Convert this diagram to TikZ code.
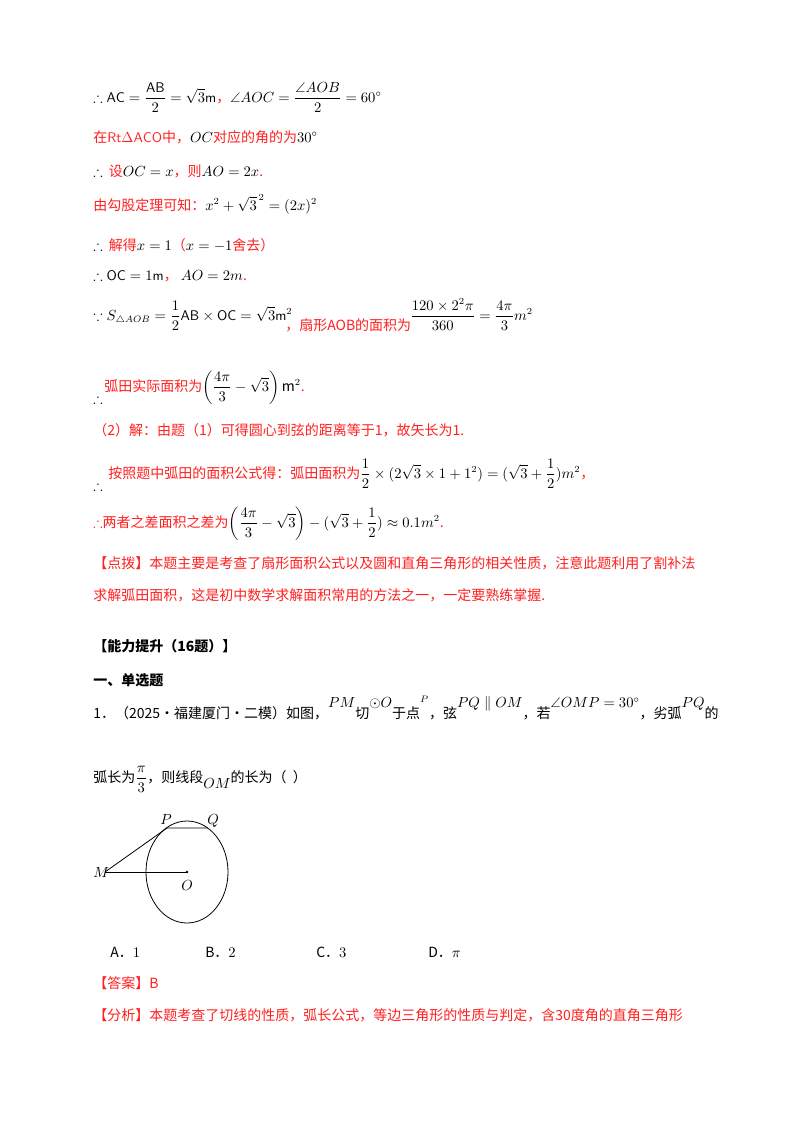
\documentclass[tikz,border=0pt]{standalone}
\usepackage{amsmath,amssymb}
\usepackage{fontspec}
\setmainfont{Noto Sans CJK SC}
\definecolor{rd}{HTML}{FF2020}
\begin{document}
\begin{tikzpicture}[x=0.75pt,y=-0.75pt,
  t/.style={anchor=base west,inner sep=0pt,font=\fontsize{10.5}{12}\selectfont},
  r/.style={t,text=rd},
  b/.style={t,font=\fontsize{10.5}{12}\selectfont\bfseries}]
\useasboundingbox[fill=white] (0,0) rectangle (800,1132);
\node[t] (l1) at (93,102) {$\therefore \mathsf{AC}=\dfrac{\mathsf{AB}}{2}=\sqrt{3}\mathsf{m}$\textcolor{rd}{，}$\angle AOC=\dfrac{\angle AOB}{2}=60^\circ$};
\node[r] (l2) at (93,142) {在\textcolor{rd}{$\mathsf{Rt}\Delta\mathsf{ACO}$}中，\textcolor{black}{$OC$}对应的角的为\textcolor{black}{$30^\circ$}};
\node[t] (l3) at (93,176) {$\therefore$\ \ \textcolor{rd}{设}$OC=x$\textcolor{rd}{，则}$AO=2x$\textcolor{rd}{.}};
\node[r] (l4) at (93,210) {由勾股定理可知：\textcolor{black}{$x^2+\sqrt{3}^{\,2}=(2x)^2$}};
\node[t] (l5) at (93,250) {$\therefore$\ \ \textcolor{rd}{解得}$x=1$\textcolor{rd}{（}$x=-1$\textcolor{rd}{舍去）}};
\node[t] (l6) at (93,280) {$\therefore \mathsf{OC}=1\mathsf{m}$\textcolor{rd}{，}\ $AO=2m$\textcolor{rd}{.}};
\node[t] (l7) at (93,320) {$\because S_{\triangle AOB}=\dfrac12\mathsf{AB}\times\mathsf{OC}=\sqrt3\mathsf{m}^2$};
\node[r] (l7b) at (285,330) {，扇形AOB的面积为};
\node[t] (l7c) at (410,320) {$\dfrac{120\times2^2\pi}{360}=\dfrac{4\pi}{3}m^2$};
\node[t] (l8a) at (93,403) {$\therefore$};
\node[r] (l8) at (104,391) {弧田实际面积为\textcolor{black}{$\left(\dfrac{4\pi}{3}-\sqrt3\right)\mathrm{m}^2$}.};
\node[r] (l9) at (93,435) {（2）解：由题（1）可得圆心到弦的距离等于1，故矢长为1.};
\node[t] (l10a) at (93,490) {$\therefore$};
\node[r] (l10) at (108,478) {按照题中弧田的面积公式得：弧田面积为\textcolor{black}{$\dfrac12\times(2\sqrt3\times1+1^2)=(\sqrt3+\dfrac12)m^2$}，};
\node[r] (l11) at (93,527) {$\therefore$两者之差面积之差为\textcolor{black}{$\left(\dfrac{4\pi}{3}-\sqrt3\right)-(\sqrt3+\dfrac12)\approx0.1m^2$}.};
\node[r] (l12) at (93,568) {【点拨】本题主要是考查了扇形面积公式以及圆和直角三角形的相关性质，注意此题利用了割补法};
\node[r] (l13) at (93,600) {求解弧田面积，这是初中数学求解面积常用的方法之一，一定要熟练掌握.};
\node[b] (h1) at (93,651) {【能力提升（16题）】};
\node[b] (h2) at (93,685) {一、单选题};
\node[t] (q1) at (93,718) {1．（2025·福建厦门·二模）如图，\raisebox{8pt}{$PM$}切\raisebox{8pt}{$\odot O$}于点\raisebox{8pt}{$^P$}，弦\raisebox{8pt}{$PQ\parallel OM$}，若\raisebox{8pt}{$\angle OMP=30^\circ$}，劣弧\raisebox{8pt}{$PQ$}的};
\node[t] (q2) at (93,782) {弧长为$\dfrac{\pi}{3}$，则线段\raisebox{-5pt}{$OM$}的长为（\ \ ）};
% figure
\coordinate (O) at (187,872);
\coordinate (M) at (105,872);
\coordinate (P) at (167,828);
\coordinate (Q) at (208,828);
\draw[line width=0.6pt] (O) ellipse [x radius=41,y radius=51];
\draw[line width=0.6pt] (M) -- (P) -- (Q);
\draw[line width=0.6pt] (M) -- (O);
\fill (O) circle (1.3);
\node[t] (Ml) at (93,877) {$M$};
\node[t] (Ol) at (181,890) {$O$};
\node[t] (Pl) at (160,824) {$P$};
\node[t] (Ql) at (207,824) {$Q$};
\node[t] (A) at (110,957) {A．$1$};
\node[t] (B) at (205,957) {B．$2$};
\node[t] (C) at (316,957) {C．$3$};
\node[t] (D) at (428,957) {D．$\pi$};
\node[r] (ans) at (93,988) {【答案】B};
\node[r] (an) at (93,1020) {【分析】本题考查了切线的性质，弧长公式，等边三角形的性质与判定，含30度角的直角三角形};
\end{tikzpicture}
\end{document}
